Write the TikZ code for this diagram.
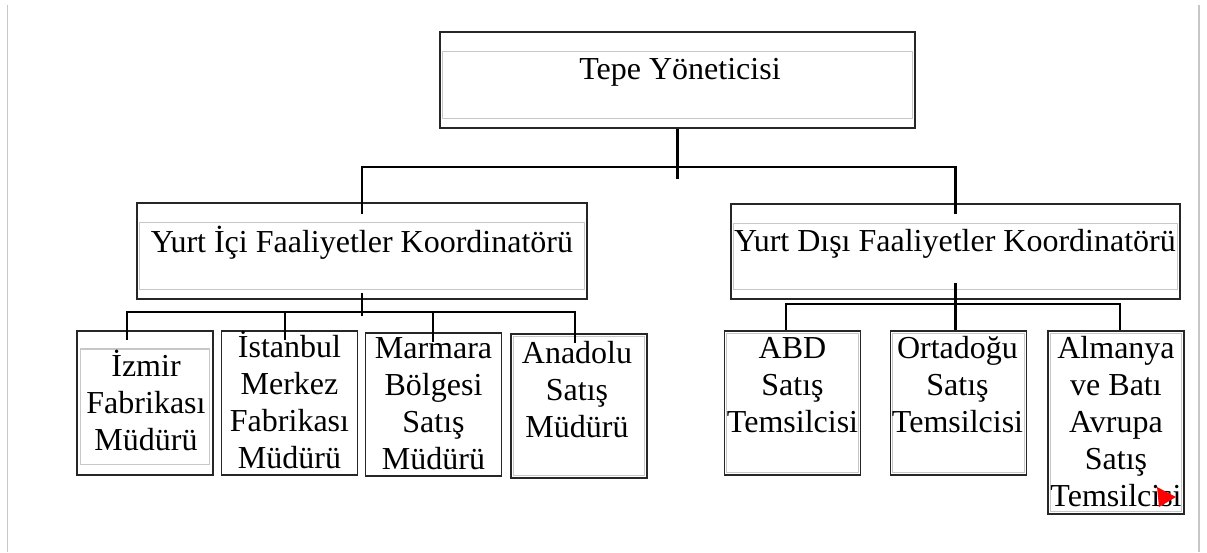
\documentclass[tikz,border=0pt]{standalone}
\usepackage{fontspec}
\setmainfont{Liberation Serif}
\tikzset{
  box/.style={draw=black!85, line width=1.6pt, inner sep=0pt},
  innerline/.style={draw=black!22, line width=1.2pt},
  link/.style={draw=black, line width=2.8pt},
  frame/.style={draw=black!22, line width=1.5pt},
  lbl/.style={font=\fontsize{32}{36.8}\selectfont, align=center, anchor=base, inner sep=0pt}
}
\begin{document}
\begin{tikzpicture}[x=1pt,y=-1pt]
\useasboundingbox (0,0) rectangle (1207,552);
\draw[frame] (7.5,5) -- (7.5,552);
\draw[frame] (1199,5) -- (1199,552);

\node[box, minimum width=475pt, minimum height=96pt] (tepe) at (677.5,80) {};
\node[box, minimum width=450pt, minimum height=96pt] (ici) at (362,251) {};
\node[box, minimum width=449pt, minimum height=95pt] (dis) at (955.5,251.5) {};
\foreach \n in {tepe,ici,dis}
  \draw[innerline] ([shift={(3,20)}]\n.north west) rectangle ([shift={(-3,-10)}]\n.south east);

\foreach \n/\x/\t/\h in {izmir/145/330/144, istanbul/289.5/330/144, marmara/433.5/332/143, anadolu/579/333/144,
                         abd/792.5/330/144, orta/958.5/330/144, almanya/1116/330/183}
  \node[box, minimum width=136pt, minimum height=\h pt, anchor=north] (\n) at (\x,\t) {};
\draw[innerline] ([shift={(4,19)}]izmir.north west) rectangle ([shift={(-4,-11)}]izmir.south east);
\foreach \n in {anadolu,abd,orta,almanya}
  \draw[innerline, line width=0.8pt] ([shift={(3,3)}]\n.north west) rectangle ([shift={(-3,-3)}]\n.south east);

% base anchor = baseline of the last line
\node[lbl] (tepeT) at (680,79) {Tepe Yöneticisi};
\node[lbl] (iciT) at (362,252) {Yurt İçi Faaliyetler Koordinatörü};
\node[lbl] (disT) at (955,251) {Yurt Dışı Faaliyetler Koordinatörü};
\node[lbl] (izmirT) at (146,450) {İzmir\\Fabrikası\\Müdürü};
\node[lbl] (istanbulT) at (289.5,468) {İstanbul\\Merkez\\Fabrikası\\Müdürü};
\node[lbl] (marmaraT) at (433.5,469) {Marmara\\Bölgesi\\Satış\\Müdürü};
\node[lbl] (anadoluT) at (577,437) {Anadolu\\Satış\\Müdürü};
\node[lbl] (abdT) at (792.5,432) {ABD\\Satış\\Temsilcisi};
\node[lbl] (ortaT) at (957.5,432) {Ortadoğu\\Satış\\Temsilcisi};
\node[lbl] (almanyaT) at (1116,506) {Almanya\\ve Batı\\Avrupa\\Satış\\Temsilcisi};

\coordinate (bus1) at (678,167);
\draw[link] (tepe.south) -- ++(0,50);
\draw[link] ([yshift=-12pt]ici.north) |- (bus1) -| ([yshift=-11pt]dis.north);

\coordinate (bus2) at (362,312);
\draw[link] ([yshift=7pt]ici.south) -- ++(0,23);
\foreach \n/\dx in {izmir/-18, istanbul/-4.5, marmara/-0.5, anadolu/-4}
  \draw[link] (bus2) -| ([xshift=\dx pt]\n.north) -- ++(0,10);

\coordinate (bus3) at (955,304);
\draw[link] ([yshift=17pt]dis.south) -- (dis.south |- orta.north);
\foreach \n/\dx in {abd/-6.5, almanya/4}
  \draw[link] (bus3) -| ([xshift=\dx pt]\n.north);

\fill[red] (1157,487) -- (1176,497) -- (1159,507) -- cycle;
\end{tikzpicture}
\end{document}
